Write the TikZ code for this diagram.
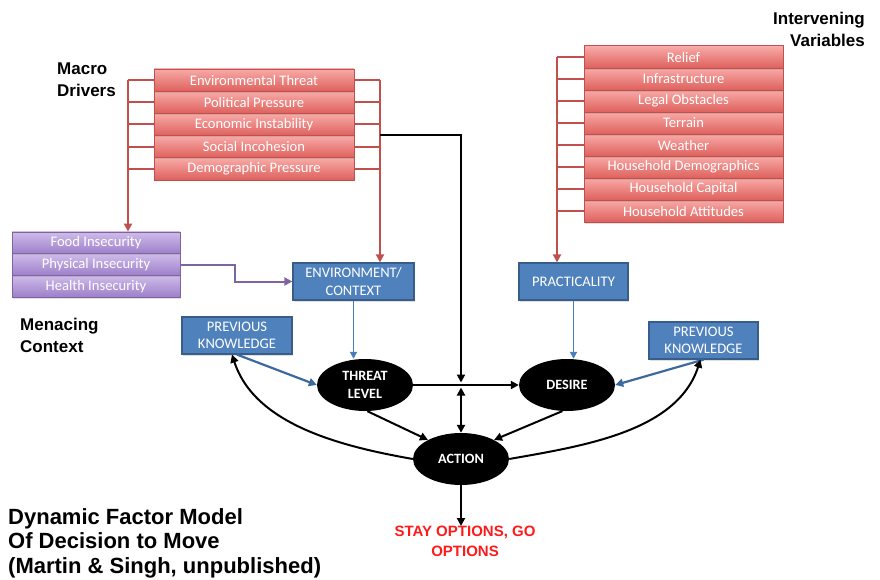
\documentclass[tikz,border=0pt]{standalone}
\usepackage{fontspec}
\setmainfont{Carlito}
\newfontfamily\titlefont{Liberation Sans}
\usetikzlibrary{arrows.meta,shapes.geometric,calc,shadows}
\definecolor{redtop}{HTML}{F8ABA8}
\definecolor{redbot}{HTML}{DE605C}
\definecolor{redline}{HTML}{C0504D}
\definecolor{purtop}{HTML}{CFBCEA}
\definecolor{purbot}{HTML}{9D7FC9}
\definecolor{purline}{HTML}{8064A2}
\definecolor{bluefill}{HTML}{4F81BD}
\definecolor{blueline}{HTML}{385D8A}
\definecolor{bluearrow}{HTML}{4A7EBB}
\definecolor{darkblue}{HTML}{3C6A9E}
\definecolor{stayred}{HTML}{FF1A1A}
\begin{document}
\begin{tikzpicture}[x=1pt,y=-1pt,
  boxtext/.style={font=\fontsize{14.6}{17.5}\selectfont, text=white, inner sep=0pt, align=center},
  redbox/.style={boxtext, draw=redline, line width=0.8pt, top color=redtop, bottom color=redbot,
    minimum height=22.2pt, drop shadow={shadow xshift=1pt, shadow yshift=-1.5pt, opacity=0.25}},
  purbox/.style={boxtext, draw=purline, line width=0.8pt, top color=purtop, bottom color=purbot,
    minimum width=168pt, minimum height=21.7pt, drop shadow={shadow xshift=1pt, shadow yshift=-1.5pt, opacity=0.25}},
  bluebox/.style={boxtext, draw=blueline, line width=1.2pt, fill=bluefill, minimum height=37pt,
    drop shadow={shadow xshift=1pt, shadow yshift=-1.5pt, opacity=0.25}},
  oval/.style={ellipse, fill=black, text=white, inner sep=0pt, minimum width=96pt, minimum height=52pt,
    font=\fontsize{14.2}{17.5}\selectfont\bfseries, align=center},
  title/.style={font=\titlefont\bfseries\fontsize{17}{22}\selectfont, inner sep=0pt},
  redwire/.style={draw=redline, line width=2pt},
  blk/.style={draw=black, line width=2pt},
  tip/.style={-{Triangle[length=8pt,width=8pt]}},
  bluearr/.style={draw=bluearrow, line width=1.8pt, -{Triangle[length=7pt,width=7pt]}},
  dbluearr/.style={draw=darkblue, line width=2.2pt, -{Triangle[length=8pt,width=8pt]}}
]
\useasboundingbox (0,0) rectangle (880,580);

% Macro drivers
\node[redbox, minimum width=200pt] (m5) at (254,168.9) {Demographic Pressure};
\node[redbox, minimum width=200pt] (m4) at (254,146.7) {Social Incohesion};
\node[redbox, minimum width=200pt] (m3) at (254,124.5) {Economic Instability};
\node[redbox, minimum width=200pt] (m2) at (254,102.3) {Political Pressure};
\node[redbox, minimum width=200pt] (m1) at (254,80.1) {Environmental Threat};

% Intervening variables
\node[redbox, minimum width=199pt] (v8) at (683.5,211) {Household Attitudes};
\node[redbox, minimum width=199pt] (v7) at (683.5,189) {Household Capital};
\node[redbox, minimum width=199pt] (v6) at (683.5,167) {Household Demographics};
\node[redbox, minimum width=199pt] (v5) at (683.5,145) {Weather};
\node[redbox, minimum width=199pt] (v4) at (683.5,123) {Terrain};
\node[redbox, minimum width=199pt] (v3) at (683.5,101) {Legal Obstacles};
\node[redbox, minimum width=199pt] (v2) at (683.5,79) {Infrastructure};
\node[redbox, minimum width=199pt] (v1) at (683.5,57) {Relief};

% Menacing context
\node[purbox] (health) at (96,286.2) {Health Insecurity};
\node[purbox] (phys) at (96,264.5) {Physical Insecurity};
\node[purbox] (food) at (96,242.8) {Food Insecurity};

% Blue boxes
\node[bluebox, minimum width=121pt] (env) at (353.5,281.5) {ENVIRONMENT/\\CONTEXT};
\node[bluebox, minimum width=109pt] (prac) at (573.5,281.5) {PRACTICALITY};
\node[bluebox, minimum width=110pt] (prevL) at (237,335.5) {PREVIOUS\\KNOWLEDGE};
\node[bluebox, minimum width=109pt] (prevR) at (703.5,340.5) {PREVIOUS\\KNOWLEDGE};

% Ovals
\node[oval] (threat) at (365,385) {THREAT\\LEVEL};
\node[oval] (desire) at (567,385) {DESIRE};
\node[oval] (action) at (461,459) {ACTION};

% Titles
\node[title, anchor=north west, align=left] (tmacro) at (57,63) {Macro\\Drivers};
\node[title, anchor=north east, align=right] (tinter) at (865,12) {Intervening\\Variables};
\node[title, anchor=north west, align=left] (tmenace) at (20,318) {Menacing\\Context};
\node[font=\titlefont\bfseries\fontsize{22}{24.5}\selectfont, inner sep=0pt, anchor=north west, align=left] (tmain) at (8,508)
  {Dynamic Factor Model\\Of Decision to Move\\(Martin \& Singh, unpublished)};
\node[font=\titlefont\bfseries\fontsize{15}{20}\selectfont, text=stayred, inner sep=0pt, anchor=north, align=center] (stay) at (465,526)
  {STAY OPTIONS, GO\\OPTIONS};

% Macro brackets
\coordinate (mlb) at (128,80.1);
\coordinate (mrb) at (380,80.1);
\foreach \n in {m1,m2,m3,m4,m5} {
  \draw[redwire] (\n.west) -- (\n.west -| mlb);
  \draw[redwire] (\n.east) -- (\n.east -| mrb);
}
\draw[redwire, tip] (mlb) -- (mlb |- food.north);
\draw[redwire, tip] (mrb) -- (mrb |- env.north);

% Intervening bracket
\coordinate (vlb) at (557,57);
\foreach \n in {v1,v2,v3,v4,v5,v6,v7,v8} {
  \draw[redwire] (\n.west) -- (\n.west -| vlb);
}
\draw[redwire, tip] (vlb) -- (vlb |- prac.north);

% Purple connector
\draw[draw=purline, line width=2pt, tip] (phys.east) -- ++(55,0) |- (env.west);

% Blue arrows
\draw[bluearr] (env.south) -- (env.south |- threat.north);
\draw[bluearr] (prac.south) -- (prac.south |- desire.north);
\draw[dbluearr] (prevL.south) -- (threat.west);
\draw[dbluearr] (prevR.south) -- (desire.east);

% Economic line
\coordinate (eco) at (380,135);
\draw[blk, tip] (eco) -- (eco -| action) -- ($(action |- threat)+(0,-2.5)$);
\draw[blk, {Triangle[length=8pt,width=8pt]}-{Triangle[length=8pt,width=8pt]}] ($(action |- threat)+(0,2.5)$) -- (action.north);

% Black arrows
\draw[blk, tip] (threat.east) -- (desire.west);
\draw[blk, tip] (threat.-85) -- (action.150);
\draw[blk, tip] (desire.-100) -- (action.30);
\draw[blk, tip] (action.south) -- (action.south |- stay.north);
\draw[blk, tip] (action.west) to[out=170,in=-72,looseness=0.9] ($(prevL.south)+(-5,0)$);
\draw[blk, tip] (action.east) to[out=10,in=-108,looseness=0.9] ($(prevR.south)+(-3,0)$);
\end{tikzpicture}
\end{document}
